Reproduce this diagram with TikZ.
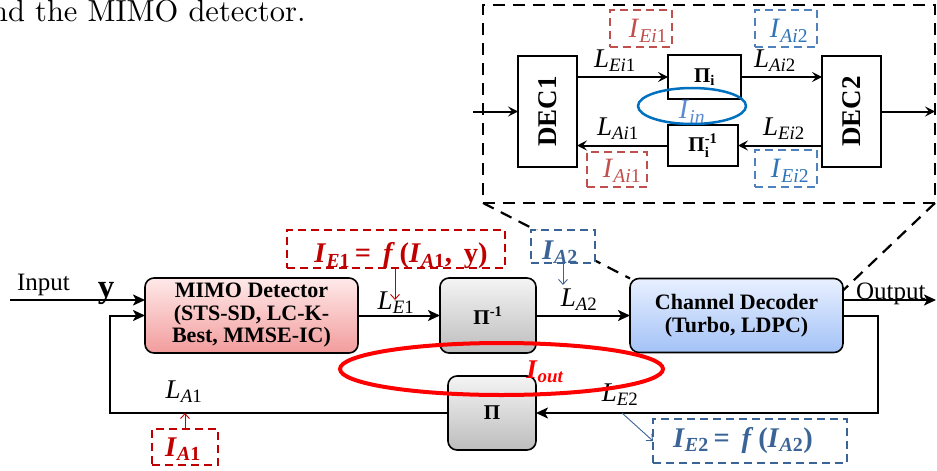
\documentclass[tikz,border=0pt]{standalone}
\usepackage{amsmath}
\usepackage{fontspec}
\usetikzlibrary{arrows.meta,calc,shapes.geometric}
\newfontfamily\tnr{Liberation Serif}
\newfontfamily\lmten{lmroman10-regular}[Extension=.otf]
\definecolor{dred}{HTML}{C00000}
\definecolor{lred}{HTML}{C0504D}
\definecolor{dblue}{HTML}{3B6496}
\definecolor{lblue}{HTML}{4F81BD}
\definecolor{tblue}{HTML}{2E75B6}
\definecolor{eblue}{HTML}{0070C0}
\definecolor{inblue}{HTML}{5B8BD0}
\definecolor{pinkT}{HTML}{FFE9E9}
\definecolor{pinkB}{HTML}{F29C9C}
\definecolor{blueT}{HTML}{E8F0FF}
\definecolor{blueB}{HTML}{A3C2F7}
\definecolor{grayT}{HTML}{F4F4F4}
\definecolor{grayB}{HTML}{BDBDBD}
\newcommand\fsz[1]{\fontsize{#1}{#1}\selectfont}
\newcommand\lab[3]{\textit{#1}$_{\textit{#2}\text{#3}}$}
\newcommand\blab[3]{\textbf{\textit{#1}}$_{\textbf{\textit{#2}#3}}$}
\begin{document}
\begin{tikzpicture}[x=1pt,y=-1pt,
  every node/.style={inner sep=0pt,outer sep=0pt},
  blk/.style={draw=black,line width=1.6pt,rounded corners=9pt,align=center,
     font={\tnr\bfseries\fontsize{22}{22.5}\selectfont}},
  gblk/.style={blk,top color=grayT,bottom color=grayB,font={\tnr\bfseries\fsz{21}}},
  ibox/.style={draw=black,line width=2.2pt},
  conn/.style={line width=2pt,-{Stealth[length=12pt,width=11pt,inset=3pt]}},
  iconn/.style={line width=2pt,-{Stealth[length=10pt,width=10pt,inset=4pt]}},
  annot/.style={line width=0.9pt,-{Straight Barb[length=5pt,width=9pt]}},
  dbox/.style={draw,line width=2pt,dash pattern=on 8pt off 5pt},
  zdash/.style={line width=2.2pt,dash pattern=on 12pt off 8pt},
  lbl/.style={font={\tnr\fsz{27}}},
  blbl/.style={font={\tnr\fsz{28.5}}},
  ilbl/.style={font={\tnr\fsz{28}}},
]
\useasboundingbox (0,0) rectangle (937,471);

% caption fragment
\node[anchor=base east,font={\lmten\fsz{30.5}}] (cap) at (305.5,21.7) {nd the MIMO detector.};

% zoom inset frame
\node[draw,zdash,minimum width=452pt,minimum height=198pt] (zoomf) at (709,104) {};

% main blocks
\node[blk,top color=pinkT,bottom color=pinkB,minimum width=213pt,minimum height=75pt] (mimo) at (251.5,315.5) {MIMO Detector\\(STS-SD, LC-K-\\Best, MMSE-IC)};
\node[gblk,minimum width=96pt,minimum height=75pt] (pinv) at (488,315.5) {Π\textsuperscript{-1}};
\node[gblk,minimum width=88pt,minimum height=74pt] (pi) at (492,413) {Π};
\node[blk,top color=blueT,bottom color=blueB,minimum width=213pt,minimum height=74pt] (dec) at (736.5,315.5) {Channel Decoder\\(Turbo, LDPC)};

% zoom diagonals
\draw[zdash] (zoomf.south west) -- (dec.north west);
\draw[zdash] (zoomf.south east) -- ($(dec.north east)+(0,12)$);

% coordinates
\coordinate (inp) at (10,300);
\coordinate (outp) at (936,300);
\coordinate (fbl) at (110,413);
\coordinate (fbr) at (878,413);

% main connectors
\draw[conn] (inp) -- (inp -| mimo.west);
\draw[conn] (mimo.east) -- (pinv.west);
\draw[conn] (pinv.east) -- (dec.west);
\draw[conn] (dec.east |- outp) -- (outp);
\draw[conn] (dec.east) -| (fbr) -- (pi.east);
\draw[conn] (pi.west) -- (fbl) |- (mimo.west);

% texts
\node[anchor=base west,font={\tnr\fsz{25}}] (intxt) at (17,290) {Input};
\node[anchor=base,font={\tnr\bfseries\fsz{33}}] (ytxt) at (106,297) {y};
\node[anchor=base west,font={\tnr\fsz{25}}] (outtxt) at (856,299) {Output};

\node[lbl] (le1) at (396,303) {\lab{L}{E}{1}};
\node[lbl] (la2) at (579,300) {\lab{L}{A}{2}};
\node[lbl] (la1) at (184,392) {\lab{L}{A}{1}};
\node[lbl] (le2) at (620,395) {\lab{L}{E}{2}};

% info boxes
\node[dbox,draw=dred,minimum width=218pt,minimum height=38pt] (ie1b) at (396,249) {};
\node[blbl,text=dred] (ie1) at (401,256) {\blab{I}{E}{1}\textbf{\,=\, \textit{f}\,(}\blab{I}{A}{1}\textbf{,\, y)}};
\node[dbox,draw=dred,minimum width=66pt,minimum height=36pt] (ia1b) at (185,447) {};
\node[blbl,text=dred] (ia1) at (183,449) {\blab{I}{A}{1}};
\node[dbox,draw=dblue,fill=white,minimum width=64pt,minimum height=33pt] (ia2b) at (563,246.5) {};
\node[blbl,text=dblue] (ia2) at (560,252) {\blab{I}{A}{2}};
\node[dbox,draw=dblue,minimum width=194pt,minimum height=44pt] (ie2b) at (750,441) {};
\node[blbl,text=dblue] (ie2) at (743,440) {\blab{I}{E}{2}\textbf{\,=\, \textit{f}\,(}\blab{I}{A}{2}\textbf{)}};

\coordinate (ae1) at (395,300);
\coordinate (aa2) at (563,285);
\coordinate (ae2) at (622,413);
\draw[annot,dred] (ie1b.south -| ae1) -- (ae1);
\draw[annot,dred] (ia1b.north) -- (ia1b.north |- fbl);
\draw[annot,dblue] (ia2b.south) -- (aa2);
\draw[annot,dblue] (ae2) -- (ie2b.west);

% outer loop ellipse
\node[draw=red,ellipse,line width=4pt,minimum width=323pt,minimum height=52pt] (oloop) at (501.5,369) {};
\node[font={\tnr\fsz{27}},text=red] (iout) at (545,372) {\blab{I}{out}{}};

% inner decoder
\node[ibox,minimum width=59pt,minimum height=111pt] (dec1) at (547.5,111.5) {};
\node[rotate=90,font={\tnr\bfseries\fsz{27}}] (dec1t) at (dec1.center) {DEC1};
\node[ibox,minimum width=59pt,minimum height=111pt] (dec2) at (851.5,111.5) {};
\node[rotate=90,font={\tnr\bfseries\fsz{27}}] (dec2t) at (dec2.center) {DEC2};
\node[ibox,minimum width=73pt,minimum height=44pt,font={\tnr\bfseries\fsz{21}}] (pii) at (704.5,77) {Π$_{\text{i}}$};
\node[ibox,minimum width=70pt,minimum height=41pt,font={\tnr\bfseries\fsz{21}}] (piiv) at (703,145.5) {Π$^{\text{-1}}_{\text{i}}$};

\coordinate (iin) at (473,111.5);
\coordinate (iout2) at (935,111.5);
\draw[iconn] (iin) -- (dec1.west);
\draw[iconn] (dec2.east) -- (iout2);
\draw[iconn] (pii.west -| dec1.east) -- (pii.west);
\draw[iconn] (pii.east) -- (pii.east -| dec2.west);
\draw[iconn] (piiv.east -| dec2.west) -- (piiv.east);
\draw[iconn] (piiv.west) -- (piiv.west -| dec1.east);

\node[lbl] (lei1) at (615,61) {\lab{L}{Ei}{1}};
\node[lbl] (lai2) at (775,61) {\lab{L}{Ai}{2}};
\node[lbl] (lai1) at (618,129) {\lab{L}{Ai}{1}};
\node[lbl] (lei2) at (784,129) {\lab{L}{Ei}{2}};

\node[dbox,draw=lred,minimum width=62pt,minimum height=37pt] (iei1b) at (641,28.5) {};
\node[ilbl,text=lred] (iei1) at (648,31) {\lab{I}{Ei}{1}};
\node[dbox,draw=lblue,minimum width=62pt,minimum height=37pt] (iai2b) at (786,28.5) {};
\node[ilbl,text=tblue] (iai2) at (789,31) {\lab{I}{Ai}{2}};
\node[dbox,draw=lred,minimum width=60pt,minimum height=35pt] (iai1b) at (617,169.5) {};
\node[ilbl,text=lred] (iai1) at (622,171) {\lab{I}{Ai}{1}};
\node[dbox,draw=lblue,minimum width=62pt,minimum height=37pt] (iei2b) at (786,168.5) {};
\node[ilbl,text=tblue] (iei2) at (790,171) {\lab{I}{Ei}{2}};

\node[draw=eblue,ellipse,line width=2.5pt,minimum width=108pt,minimum height=36pt] (iloop) at (692,106) {};
\node[font={\tnr\fsz{28}},text=inblue] (iin2) at (692,112) {\lab{I}{in}{}};
\end{tikzpicture}
\end{document}
